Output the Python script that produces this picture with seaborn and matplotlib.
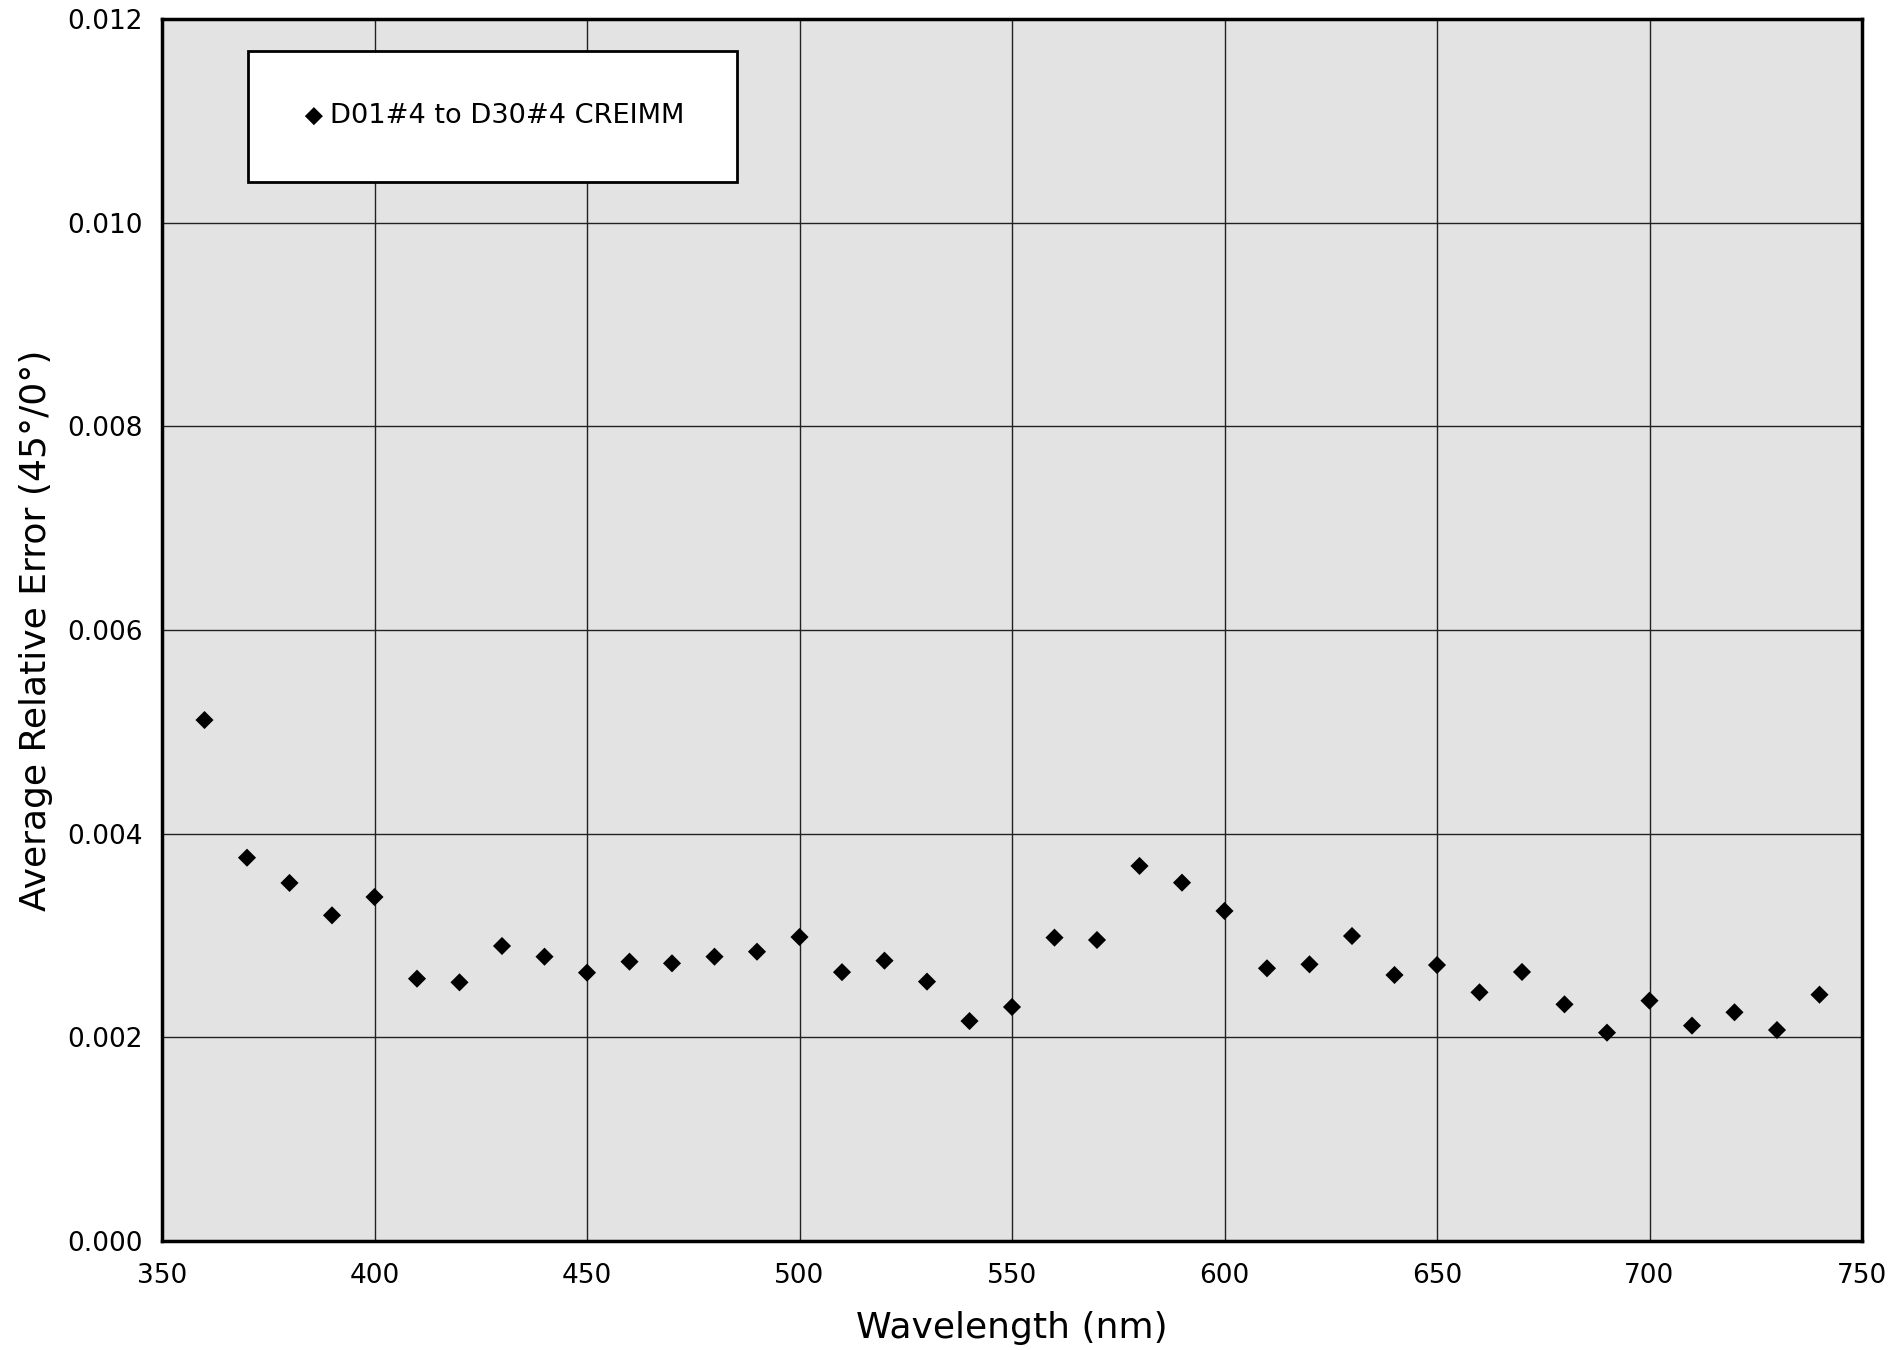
import matplotlib
matplotlib.use("Agg")
import matplotlib.pyplot as plt
import seaborn as sns
import pandas as pd

wavelength = [360, 370, 380, 390, 400, 410, 420, 430, 440, 450,
              460, 470, 480, 490, 500, 510, 520, 530, 540, 550,
              560, 570, 580, 590, 600, 610, 620, 630, 640, 650,
              660, 670, 680, 690, 700, 710, 720, 730, 740]
avg_rel_error = [0.005116, 0.003764, 0.003516, 0.003198, 0.003378, 0.002576, 0.002540, 0.002897, 0.002792, 0.002635,
                 0.002743, 0.002727, 0.002792, 0.002841, 0.002985, 0.002640, 0.002753, 0.002547, 0.002160, 0.002298,
                 0.002979, 0.002956, 0.003683, 0.003519, 0.003241, 0.002678, 0.002717, 0.002995, 0.002612, 0.002710,
                 0.002442, 0.002642, 0.002324, 0.002046, 0.002360, 0.002115, 0.002246, 0.002072, 0.002419]
series_label = "D01#4 to D30#4 CREIMM"
x_ticks = [350, 400, 450, 500, 550, 600, 650, 700, 750]
y_ticks = [0.000, 0.002, 0.004, 0.006, 0.008, 0.010, 0.012]

df = pd.DataFrame({"Wavelength": wavelength, "Error": avg_rel_error})

sns.set_theme(style="whitegrid", rc={
    "axes.facecolor": "#e3e3e3",
    "axes.edgecolor": "black",
    "grid.color": "#222222",
    "grid.linewidth": 1.0,
    "text.color": "black",
    "axes.labelcolor": "black",
})
plt.rcParams["font.family"] = ["DejaVu Sans"]

fig = plt.figure(figsize=(18.91, 13.50), dpi=100)
ax = fig.add_axes([162 / 1891, 1 - 1241 / 1350, 1700 / 1891, 1222 / 1350])

sns.scatterplot(data=df, x="Wavelength", y="Error", ax=ax, marker="D",
                color="black", s=85, edgecolor="none", label=series_label)

ax.set_xlim(350, 750)
ax.set_ylim(0.0, 0.012)
ax.set_xticks(x_ticks)
ax.set_yticks(y_ticks)
ax.set_xticklabels([str(t) for t in x_ticks])
ax.set_yticklabels([f"{t:.3f}" for t in y_ticks])
ax.tick_params(axis="both", which="both", length=0, labelsize=19, colors="black")
ax.tick_params(axis="x", pad=16)
ax.tick_params(axis="y", pad=14)
ax.grid(True, color="#222222", linewidth=1.0)
ax.set_axisbelow(True)
for sp in ax.spines.values():
    sp.set_linewidth(2.5)
    sp.set_color("black")

ax.set_xlabel("Wavelength (nm)", fontsize=26, labelpad=16, color="black")
ax.set_ylabel("Average Relative Error (45°/0°)", fontsize=26, labelpad=10, color="black")

leg = ax.legend(loc="upper left", bbox_to_anchor=(0.0506, 0.9738), borderaxespad=0,
                fontsize=19.6, frameon=True, fancybox=False, borderpad=1.92,
                handletextpad=0.1, handlelength=1.0, markerscale=1.0)
for t in leg.get_texts():
    t.set_color("black")
frame = leg.get_frame()
frame.set_facecolor("white")
frame.set_edgecolor("black")
frame.set_linewidth(2.0)
frame.set_alpha(1.0)

fig.savefig("out.png", dpi=100)
